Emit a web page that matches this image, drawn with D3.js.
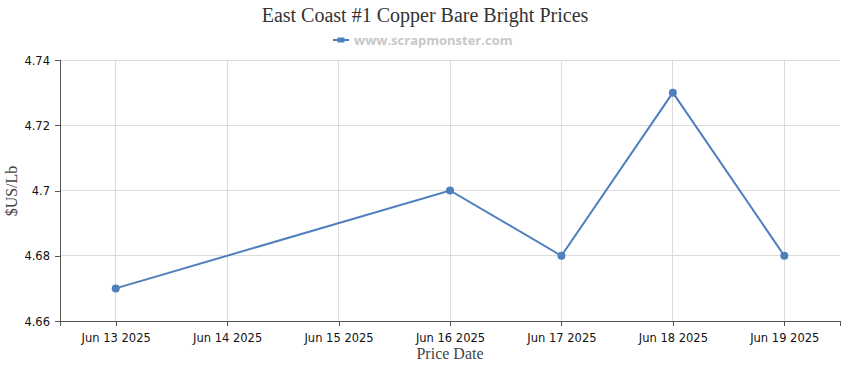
<!DOCTYPE html>
<html><head><meta charset="utf-8">
<script src="https://cdn.jsdelivr.net/npm/d3@7"></script>
<style>body{margin:0;background:#fff;} svg{display:block;}</style>
</head><body>
<svg id="chart" width="850" height="370"></svg>
<script>
const dates = ["Jun 13 2025","Jun 14 2025","Jun 15 2025","Jun 16 2025","Jun 17 2025","Jun 18 2025","Jun 19 2025"];
const prices = [4.67, null, null, 4.70, 4.68, 4.73, 4.68];
const yTicks = [4.66, 4.68, 4.70, 4.72, 4.74];
const title = "East Coast #1 Copper Bare Bright Prices";
const seriesName = "www.scrapmonster.com";

const svg = d3.select("#chart");
const L = 60, R = 840, T = 60, B = 321;
const x = d3.scalePoint().domain(dates).range([L, R]).padding(0.5);
const y = d3.scaleLinear().domain([4.66, 4.74]).range([B, T]);
const color = "#4f7fbc";

// grid
svg.append("g").selectAll("line.h").data(yTicks).join("line")
  .attr("x1", L).attr("x2", R).attr("y1", d => y(d)).attr("y2", d => y(d))
  .attr("stroke", "#dcdcdc").attr("stroke-width", 1).attr("shape-rendering","crispEdges");
svg.append("g").selectAll("line.v").data(dates).join("line")
  .attr("x1", d => x(d)).attr("x2", d => x(d)).attr("y1", T).attr("y2", B)
  .attr("stroke", "#dcdcdc").attr("stroke-width", 1).attr("shape-rendering","crispEdges");

// axes
const fmt = d => d3.format("")(+d.toFixed(2));
const yAxis = svg.append("g").attr("transform", `translate(${L},0)`)
  .call(d3.axisLeft(y).tickValues(yTicks).tickFormat(fmt).tickSizeOuter(0).tickSize(5));
const xAxis = svg.append("g").attr("transform", `translate(0,${B})`)
  .call(d3.axisBottom(x).tickSizeOuter(0).tickSize(5));
[yAxis, xAxis].forEach(a => {
  a.select(".domain").attr("stroke", "#555").attr("shape-rendering","crispEdges");
  a.selectAll(".tick line").attr("stroke", "#555").attr("shape-rendering","crispEdges");
  a.selectAll(".tick text").attr("fill", "#111").style("font-family", "'DejaVu Sans', sans-serif").style("font-size", "11.5px");
});
yAxis.selectAll(".tick text").attr("x", -10).attr("dy", "0.35em");
xAxis.selectAll(".tick text").attr("dy", "0").attr("y", 21);

// line
const pts = dates.map((d, i) => ({d, v: prices[i]})).filter(p => p.v != null);
svg.append("path").datum(pts)
  .attr("fill", "none").attr("stroke", color).attr("stroke-width", 2)
  .attr("d", d3.line().x(p => x(p.d)).y(p => y(p.v)));
svg.append("g").selectAll("circle").data(pts).join("circle")
  .attr("cx", p => x(p.d)).attr("cy", p => y(p.v)).attr("r", 4).attr("fill", color);

// title
svg.append("text").attr("x", 425).attr("y", 22).attr("text-anchor", "middle")
  .style("font-family", "'Liberation Serif', 'Times New Roman', serif").style("font-size", "20px").attr("fill", "#333")
  .text(title);

// legend
const lg = svg.append("g");
lg.append("line").attr("x1", 333).attr("x2", 349).attr("y1", 40).attr("y2", 40).attr("stroke", color).attr("stroke-width", 2);
lg.append("rect").attr("x", 337.5).attr("y", 37.5).attr("width", 7).attr("height", 5).attr("fill", color);
lg.append("text").attr("x", 354).attr("y", 45)
  .style("font-family", "'Open Sans', sans-serif").style("font-size", "13px").style("font-weight", "bold")
  .attr("fill", "#c8c8c8").text(seriesName);

// axis titles
svg.append("text").attr("x", 450).attr("y", 359).attr("text-anchor", "middle")
  .style("font-family", "'Liberation Serif', serif").style("font-size", "16px").attr("fill", "#444")
  .text("Price Date");
svg.append("text").attr("transform", "translate(17,191) rotate(-90)").attr("text-anchor", "middle")
  .style("font-family", "'Liberation Serif', serif").style("font-size", "16px").attr("fill", "#444")
  .text("$US/Lb");
</script>
</body></html>
